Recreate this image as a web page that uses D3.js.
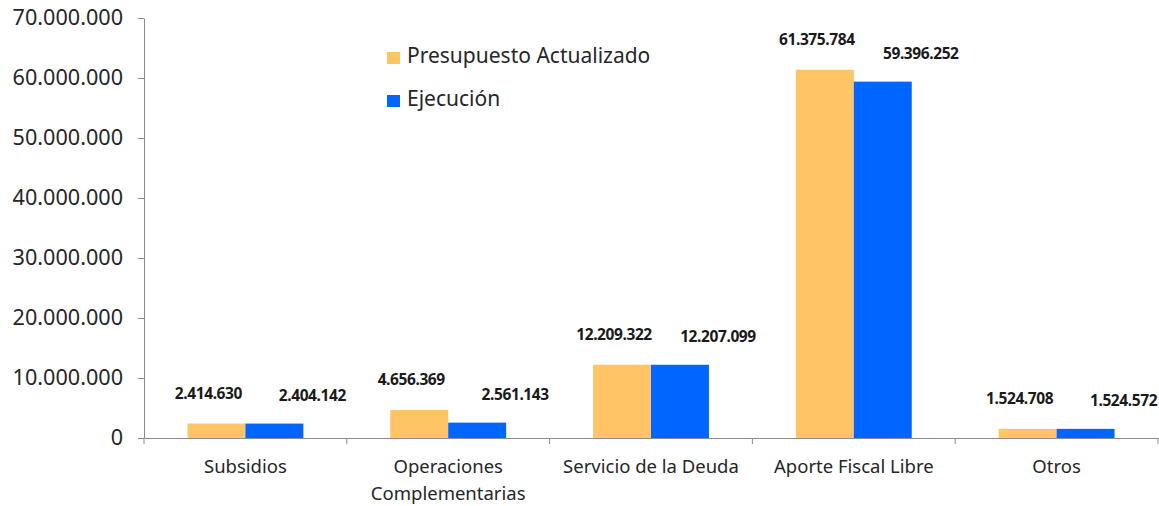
<!DOCTYPE html>
<html>
<head>
<meta charset="utf-8">
<script src="https://cdn.jsdelivr.net/npm/d3@7"></script>
<style>
  body { margin: 0; background: #fff; }
  svg text { font-family: "Noto Sans", "Open Sans", sans-serif; }
</style>
</head>
<body>
<div id="chart"></div>
<script>
// datos del grafico
const categorias = ['Subsidios', 'Operaciones Complementarias', 'Servicio de la Deuda', 'Aporte Fiscal Libre', 'Otros']
const presupuesto = [2414630, 4656369, 12209322, 61375784, 1524708]
const ejecucion = [2404142, 2561143, 12207099, 59396252, 1524572]
const series = ['Presupuesto Actualizado', 'Ejecución']
const yTicks = [0, 10000000, 20000000, 30000000, 40000000, 50000000, 60000000, 70000000]

const colores = ['#FFC466', '#0066FF']
const W = 1159, H = 506
const margin = {left: 144, right: 1, top: 18, bottom: 68}

const svg = d3.select('#chart').append('svg')
  .attr('width', W).attr('height', H)

// formato con punto como separador de miles
const fmt = v => d3.format(',')(v).replace(/,/g, '.')

const x = d3.scaleBand()
  .domain(categorias)
  .range([margin.left, W - margin.right])
  .paddingInner(0).paddingOuter(0)

const xs = d3.scaleBand()
  .domain([0, 1])
  .range([0, x.bandwidth()])
  .paddingInner(0).paddingOuter(0.75)

const y = d3.scaleLinear()
  .domain([0, 70000000])
  .range([H - margin.bottom, margin.top])

// eje y
const yAxis = svg.append('g')
  .attr('transform', `translate(${margin.left},0)`)
  .call(d3.axisLeft(y).tickValues(yTicks).tickFormat(d => d === 0 ? '0' : fmt(d)).tickSize(6).tickSizeOuter(0))
yAxis.select('.domain').attr('stroke', '#8c8c8c')
yAxis.selectAll('.tick line').attr('stroke', '#8c8c8c')
yAxis.selectAll('.tick text')
  .attr('x', -21)
  .style('font-size', '21.6px')
  .attr('fill', '#262626')

// eje x
const xAxis = svg.append('g')
  .attr('transform', `translate(0,${y(0)})`)
  .call(d3.axisBottom(x).tickSize(0).tickSizeOuter(0))
xAxis.select('.domain').attr('stroke', '#8c8c8c')
xAxis.selectAll('.tick text').remove()

// marcas de separacion entre categorias
const bordes = categorias.map(c => x(c)).concat([x(categorias[categorias.length - 1]) + x.bandwidth()])
svg.append('g').selectAll('line')
  .data(bordes)
  .join('line')
  .attr('x1', d => d).attr('x2', d => d)
  .attr('y1', y(0)).attr('y2', y(0) + 6)
  .attr('stroke', '#8c8c8c')

// etiquetas de categoria (con salto de linea)
svg.append('g').selectAll('text')
  .data(categorias)
  .join('text')
  .attr('x', d => x(d) + x.bandwidth() / 2)
  .attr('y', y(0) + 35)
  .attr('text-anchor', 'middle')
  .attr('fill', '#262626')
  .style('font-size', '18.5px')
  .each(function(d){
    const partes = d === 'Operaciones Complementarias' ? ['Operaciones', 'Complementarias'] : [d]
    d3.select(this).selectAll('tspan')
      .data(partes)
      .join('tspan')
      .attr('x', x(d) + x.bandwidth() / 2)
      .attr('dy', (p, i) => i === 0 ? 0 : 27)
      .text(p => p)
  })

// barras
const datos = categorias.map((c, i) => ({cat: c, vals: [presupuesto[i], ejecucion[i]]}))
const grupos = svg.append('g').selectAll('g')
  .data(datos)
  .join('g')
  .attr('transform', d => `translate(${x(d.cat)},0)`)

grupos.selectAll('rect')
  .data(d => d.vals.map((v, s) => ({v, s})))
  .join('rect')
  .attr('x', d => xs(d.s))
  .attr('width', xs.bandwidth())
  .attr('y', d => y(d.v))
  .attr('height', d => y(0) - y(d.v))
  .attr('fill', d => colores[d.s])

// etiquetas de valores
const dxLabel = [-8, 38]
const dyLabel = [-25, -23]
grupos.selectAll('text')
  .data(d => d.vals.map((v, s) => ({v, s})))
  .join('text')
  .attr('x', d => xs(d.s) + xs.bandwidth() / 2 + dxLabel[d.s])
  .attr('y', d => y(d.v) + dyLabel[d.s])
  .attr('text-anchor', 'middle')
  .attr('fill', '#1a1a1a')
  .style('font-size', '15.5px')
  .style('font-weight', 'bold')
  .style('letter-spacing', '-0.4px')
  .text(d => fmt(d.v))

// leyenda
const leyenda = svg.append('g').attr('transform', 'translate(387,52)')
leyenda.selectAll('rect')
  .data(series)
  .join('rect')
  .attr('x', 0)
  .attr('y', (d, i) => i * 43)
  .attr('width', 13).attr('height', 12)
  .attr('fill', (d, i) => colores[i])
leyenda.selectAll('text')
  .data(series)
  .join('text')
  .attr('x', 20)
  .attr('y', (d, i) => i * 43 + 11)
  .attr('fill', '#262626')
  .style('font-size', '21px')
  .text(d => d)
</script>
</body>
</html>
